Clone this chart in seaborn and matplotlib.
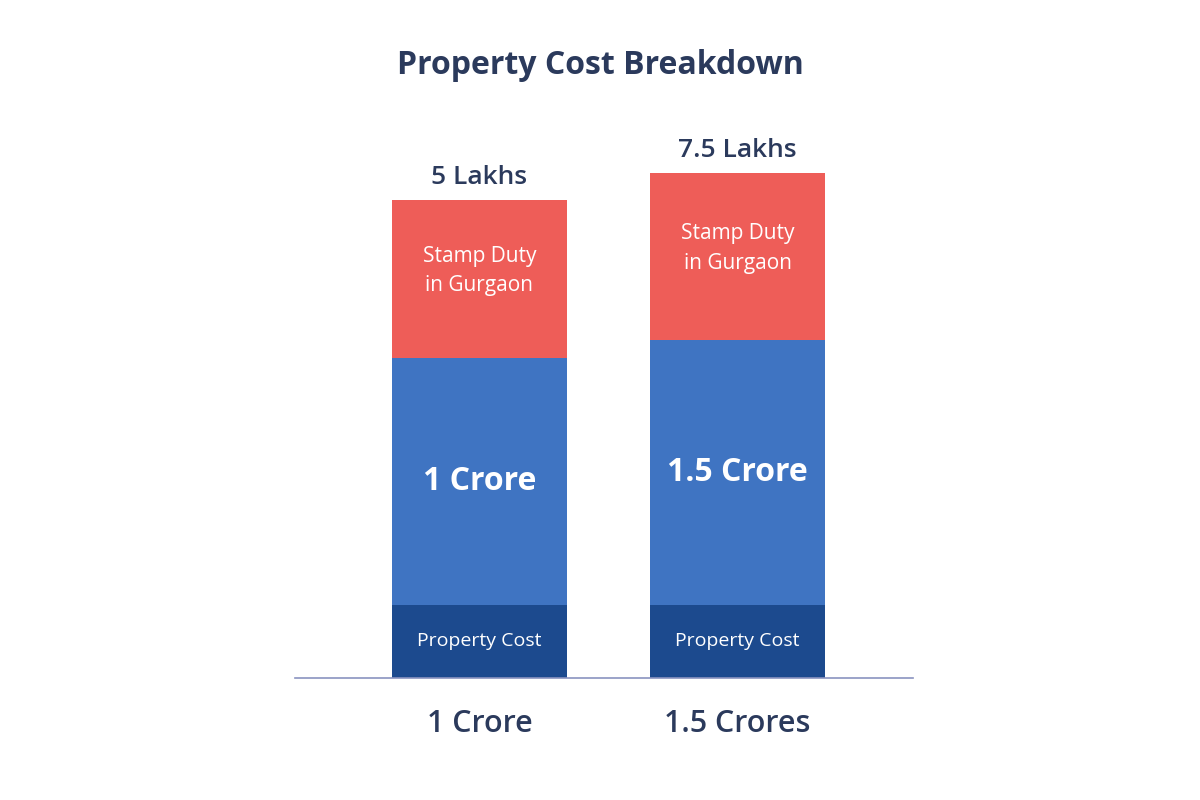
import matplotlib
matplotlib.use("Agg")
import matplotlib.pyplot as plt
import seaborn as sns
import pandas as pd

# Data (segment heights as drawn in the picture, arbitrary units)
CATEGORIES = ["1 Crore", "1.5 Crores"]
BASE_SEG = [73, 73]          # "Property Cost" band
VALUE_SEG = [247, 265]       # property value band
DUTY_SEG = [158, 167]        # stamp duty band
VALUE_LABELS = ["1 Crore", "1.5 Crore"]
DUTY_LABELS = ["5 Lakhs", "7.5 Lakhs"]

DARK = "#1C4A8E"
BLUE = "#3F74C2"
RED = "#EE5D58"
TEXT = "#2B3A5C"

sns.set_style("white")
plt.rcParams["font.family"] = ["Open Sans", "DejaVu Sans"]

df = pd.DataFrame({"cat": CATEGORIES, "base": BASE_SEG,
                   "value": VALUE_SEG, "duty": DUTY_SEG})
df["lvl2"] = df["base"] + df["value"]
df["lvl3"] = df["lvl2"] + df["duty"]

fig = plt.figure(figsize=(12, 8), dpi=100)
ax = fig.add_axes([295 / 1200, 122 / 800, 618 / 1200, 578 / 800])

for col, color in [("lvl3", RED), ("lvl2", BLUE), ("base", DARK)]:
    sns.barplot(data=df, x="cat", y=col, color=color, width=0.68,
                saturation=1, ax=ax, linewidth=0)

ax.set_xlim(-0.715, 1.68)
ax.set_ylim(0, 578)
for s in ["top", "right", "left"]:
    ax.spines[s].set_visible(False)
ax.spines["bottom"].set_color("#8A93C0")
ax.spines["bottom"].set_linewidth(1.2)
ax.set_yticks([])
ax.set_xlabel("")
ax.set_ylabel("")
ax.tick_params(axis="x", length=0, pad=22)
ax.set_xticks([0, 1])
ax.set_xticklabels(CATEGORIES, fontsize=22, fontweight="semibold", color=TEXT)

for i, row in df.iterrows():
    ax.text(i, row["base"] / 2, "Property Cost", ha="center", va="center",
            color="white", fontsize=14)
    ax.text(i, row["base"] + row["value"] / 2, VALUE_LABELS[i], ha="center",
            va="center", color="white", fontsize=23, fontweight="bold")
    ax.text(i, row["lvl2"] + row["duty"] / 2 + 8, "Stamp Duty\nin Gurgaon",
            ha="center", va="center", color="white", fontsize=15,
            linespacing=1.5)
    ax.text(i, row["lvl3"] + 10, DUTY_LABELS[i], ha="center", va="bottom",
            color=TEXT, fontsize=19, fontweight="semibold")

fig.text(0.5, 1 - 65 / 800, "Property Cost Breakdown", ha="center",
         va="center", fontsize=23, fontweight="bold", color=TEXT)

fig.savefig("out.png", dpi=100, facecolor="white")
